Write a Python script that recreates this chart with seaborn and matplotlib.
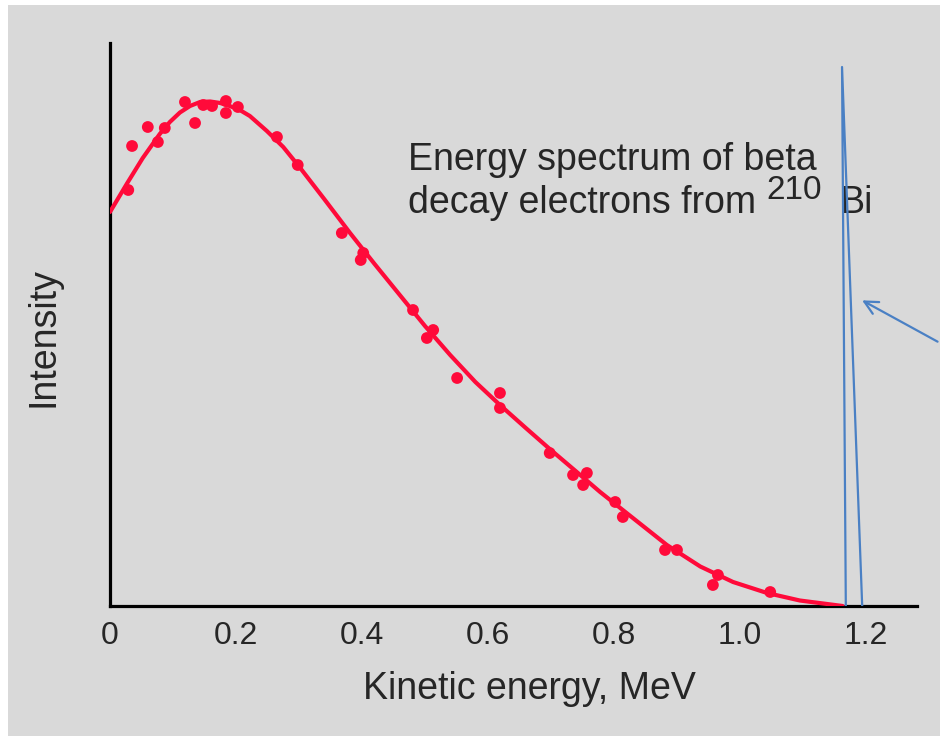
import matplotlib
matplotlib.use("Agg")
import matplotlib.pyplot as plt
import seaborn as sns
from matplotlib.patches import Rectangle

# ---------------- data ----------------
# fitted spectrum (kinetic energy in MeV, relative intensity)
curve_energy = [0.000, 0.027, 0.052, 0.079, 0.095, 0.111, 0.127, 0.143, 0.159, 0.175,
                0.190, 0.206, 0.222, 0.249, 0.275, 0.302, 0.340, 0.381, 0.420, 0.460,
                0.500, 0.540, 0.580, 0.619, 0.660, 0.698, 0.740, 0.778, 0.830, 0.884,
                0.937, 0.989, 1.043, 1.095, 1.163]
curve_intensity = [78.8, 84.5, 89.6, 94.4, 96.8, 98.7, 100.0, 100.8, 100.9, 100.6,
                   100.0, 99.2, 98.0, 95.0, 91.8, 87.6, 81.4, 74.6, 68.4, 62.2,
                   56.0, 50.2, 44.8, 40.2, 35.6, 31.4, 26.9, 22.8, 17.6, 12.2,
                   7.9, 4.8, 2.6, 1.1, 0.0]

# measured points
meas_energy = [0.029, 0.035, 0.060, 0.076, 0.087, 0.119, 0.135, 0.148, 0.162, 0.184,
               0.184, 0.203, 0.265, 0.298, 0.368, 0.402, 0.398, 0.481, 0.513, 0.503,
               0.551, 0.619, 0.619, 0.698, 0.735, 0.757, 0.751, 0.802, 0.814, 0.881,
               0.900, 0.965, 0.957, 1.048]
meas_intensity = [83.2, 92.0, 95.8, 92.8, 95.6, 100.8, 96.6, 100.2, 100.0, 101.0,
                  98.6, 99.8, 93.8, 88.2, 74.6, 70.6, 69.2, 59.2, 55.2, 53.6,
                  45.6, 42.6, 39.6, 30.6, 26.2, 26.6, 24.2, 20.8, 17.8, 11.2,
                  11.2, 6.2, 4.2, 2.8]

# hand-drawn blue spike at the endpoint energy
spike_energy = [1.168, 1.162, 1.194]
spike_intensity = [0.0, 107.8, 0.0]

tick_values = [0, 0.2, 0.4, 0.6, 0.8, 1.0, 1.2]
tick_labels = ["0", "0.2", "0.4", "0.6", "0.8", "1.0", "1.2"]

# ---------------- style ----------------
BG = "#d9d9d9"
RED = "#ff0a3a"
BLUE = "#4a80c4"
TXT = "#262626"

sns.set_style("white")
plt.rcParams["font.family"] = ["Liberation Sans", "DejaVu Sans"]

fig = plt.figure(figsize=(9.4, 7.36), dpi=100, facecolor=BG)
# thin white margin at the top and left of the scan
fig.patches.append(Rectangle((0, 0), 8 / 940, 1, transform=fig.transFigure,
                             facecolor="white", edgecolor="none", zorder=-10))
fig.patches.append(Rectangle((0, 1 - 5 / 736), 1, 5 / 736, transform=fig.transFigure,
                             facecolor="white", edgecolor="none", zorder=-10))
ax = fig.add_axes([110 / 940, 1 - 606 / 736, 807 / 940, 563 / 736])
ax.set_facecolor("none")

sns.lineplot(x=curve_energy, y=curve_intensity, ax=ax, color=RED, linewidth=3.0,
             sort=False, zorder=3)
sns.scatterplot(x=meas_energy, y=meas_intensity, ax=ax, color=RED, s=72,
                edgecolor="none", zorder=4)
sns.lineplot(x=spike_energy, y=spike_intensity, ax=ax, color=BLUE, linewidth=1.6,
             sort=False, zorder=5)

ax.set_xlim(0, 1.281)
ax.set_ylim(0, 112.6)

ax.set_xticks(tick_values)
ax.set_xticklabels(tick_labels)
ax.set_yticks([])
ax.tick_params(axis="x", length=0, pad=11, labelsize=23, labelcolor=TXT)

for side in ["top", "right"]:
    ax.spines[side].set_visible(False)
for side in ["left", "bottom"]:
    ax.spines[side].set_color("black")
    ax.spines[side].set_linewidth(2.3)

ax.set_xlabel("Kinetic energy, MeV", fontsize=27, color=TXT)
ax.set_ylabel("Intensity", fontsize=27, color=TXT)
ax.xaxis.set_label_coords(0.52, -0.115)
ax.yaxis.set_label_coords(-0.06, 0.478)

# annotation text: two lines plus superscript mass number
ax.text(0.369, 0.774, "Energy spectrum of beta", transform=ax.transAxes,
        ha="left", va="baseline", fontsize=27, color=TXT, zorder=2)
ax.text(0.369, 0.698, "decay electrons from", transform=ax.transAxes,
        ha="left", va="baseline", fontsize=27, color=TXT, zorder=2)
ax.text(0.813, 0.723, "210", transform=ax.transAxes, ha="left", va="baseline",
        fontsize=24, color=TXT, zorder=2)
ax.text(0.904, 0.698, "Bi", transform=ax.transAxes, ha="left", va="baseline",
        fontsize=27, color=TXT, zorder=2)

# arrow pointing at the spike, coming in from the right edge
ax.annotate("", xy=(1.19, 61.4), xycoords="data",
            xytext=(1.0, 1 - 343 / 736), textcoords="figure fraction",
            arrowprops=dict(arrowstyle="->", color=BLUE, lw=1.6, mutation_scale=24),
            annotation_clip=False)

fig.savefig("out.png", dpi=100, facecolor=BG)
